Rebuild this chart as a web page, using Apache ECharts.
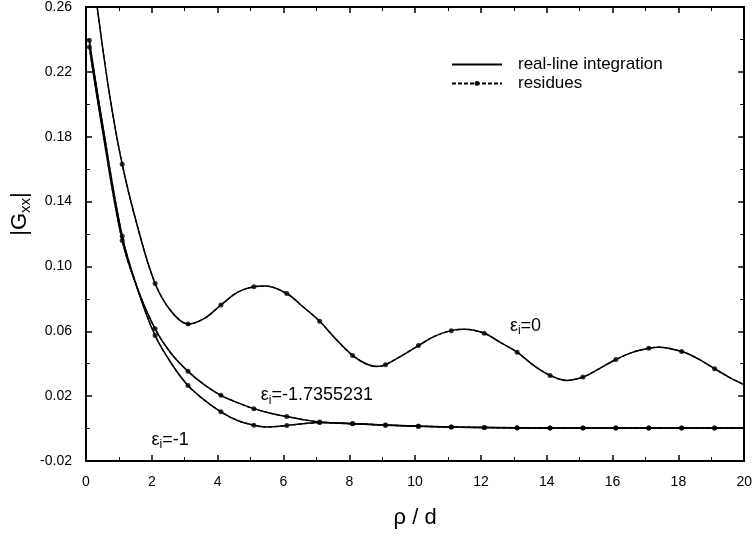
<!DOCTYPE html>
<html>
<head>
<meta charset="utf-8">
<script src="https://cdn.jsdelivr.net/npm/echarts@6/dist/echarts.min.js"></script>
<style>
html, body { margin: 0; padding: 0; background: #fff; }
#chart { width: 755px; height: 536px; }
</style>
</head>
<body>
<div id="chart"></div>
<script>
// 曲线数据
var lineX0 = [0.34, 0.7, 1.1, 1.6, 2.1, 2.6, 3.1, 3.6, 4.1, 4.6, 5.1, 5.45, 6.1, 6.6, 7.1, 7.6, 8.1, 8.5, 8.85, 9.1, 9.6, 10.1, 10.6, 11.1, 11.5, 12.1, 12.6, 13.1, 13.6, 14.1, 14.6, 15.1, 15.6, 16.1, 16.6, 17.1, 17.4, 18.1, 18.6, 19.1, 19.6, 20];
var lineY0 = [0.26, 0.208, 0.163, 0.122, 0.0895, 0.072, 0.0645, 0.068, 0.0762, 0.084, 0.0875, 0.0879, 0.0833, 0.075, 0.0662, 0.055, 0.0451, 0.0400, 0.0383, 0.0394, 0.045, 0.0512, 0.057, 0.0604, 0.0612, 0.0588, 0.053, 0.0471, 0.039, 0.0328, 0.0297, 0.0318, 0.037, 0.0426, 0.047, 0.0496, 0.0502, 0.0475, 0.043, 0.0369, 0.031, 0.0271];

var lineX1 = [0.1, 0.5, 1.1, 1.6, 2.1, 2.6, 3.1, 3.6, 4.1, 4.6, 5.1, 5.45, 6.1, 6.6, 7.1, 8.1, 9.1, 10.1, 11.1, 12.1, 13.1, 14.1, 15.1, 16.1, 17.1, 18.1, 19.1, 20];
var lineY1 = [0.2395, 0.188, 0.1188, 0.084, 0.0574, 0.040, 0.0265, 0.0175, 0.0103, 0.005, 0.0021, 0.0010, 0.0019, 0.003, 0.0037, 0.0031, 0.0022, 0.0015, 0.0009, 0.0006, 0.0004, 0.0003, 0.0003, 0.0003, 0.0003, 0.0003, 0.0003, 0.0003];

var lineX2 = [0.1, 0.5, 1.1, 1.6, 2.1, 2.6, 3.1, 3.6, 4.1, 4.6, 5.1, 5.6, 6.1, 6.6, 7.1, 8.1, 9.1, 10.1, 11.1, 12.1, 13.1, 14.1, 15.1, 16.1, 17.1, 18.1, 19.1, 20];
var lineY2 = [0.2354, 0.184, 0.116, 0.0845, 0.0615, 0.046, 0.0353, 0.027, 0.0205, 0.016, 0.0123, 0.0095, 0.0074, 0.0055, 0.0041, 0.0029, 0.0021, 0.0015, 0.0010, 0.0007, 0.0005, 0.0004, 0.0003, 0.0003, 0.0003, 0.0003, 0.0003, 0.0003];

// residues 的点
var resX = [0.1, 1.1, 2.1, 3.1, 4.1, 5.1, 6.1, 7.1, 8.1, 9.1, 10.1, 11.1, 12.1, 13.1, 14.1, 15.1, 16.1, 17.1, 18.1, 19.1];
var resX0 = [1.1, 2.1, 3.1, 4.1, 5.1, 6.1, 7.1, 8.1, 9.1, 10.1, 11.1, 12.1, 13.1, 14.1, 15.1, 16.1, 17.1, 18.1, 19.1];
var resY0 = [0.163, 0.0895, 0.0645, 0.0762, 0.0875, 0.0833, 0.0662, 0.0451, 0.0394, 0.0512, 0.0604, 0.0588, 0.0471, 0.0328, 0.0318, 0.0426, 0.0496, 0.0475, 0.0369];
var resY1 = [0.2395, 0.1188, 0.0574, 0.0265, 0.0103, 0.0021, 0.0019, 0.0037, 0.0031, 0.0022, 0.0015, 0.0009, 0.0006, 0.0004, 0.0003, 0.0003, 0.0003, 0.0003, 0.0003, 0.0003];
var resY2 = [0.2354, 0.116, 0.0615, 0.0353, 0.0205, 0.0123, 0.0074, 0.0041, 0.0029, 0.0021, 0.0015, 0.0010, 0.0007, 0.0005, 0.0004, 0.0003, 0.0003, 0.0003, 0.0003, 0.0003];

// 曲线标注
var curveLabels = ['ε{s|i}=0', 'ε{s|i}=-1.7355231', 'ε{s|i}=-1'];
var curveLabelPos = [[12.88, 0.0635], [5.31, 0.0205], [1.99, -0.0071]];

function pairs(xs, ys) {
    return xs.map(function (x, i) { return [x, ys[i]]; });
}

var FONT = '"Liberation Sans", Arial, sans-serif';

var chart = echarts.init(document.getElementById('chart'));

function solid(xs, ys) {
    return {
        name: 'real-line integration',
        type: 'line',
        data: pairs(xs, ys),
        smooth: 0.35,
        symbol: 'none',
        lineStyle: { color: '#000', width: 1.5, type: 'solid' },
        itemStyle: { color: '#000' },
        clip: true,
        z: 2
    };
}
// residues: 虚线 + 圆点
function residLine(xs, ys) {
    return {
        name: 'residues',
        type: 'line',
        data: pairs(xs, ys),
        smooth: 0.35,
        symbol: 'circle',
        symbolSize: 5,
        showSymbol: false,
        lineStyle: { color: '#000', width: 1.3, type: [4, 2] },
        itemStyle: { color: '#000' },
        clip: true,
        z: 3
    };
}
function residDots(xs, ys) {
    return {
        name: 'residues',
        type: 'scatter',
        data: pairs(xs, ys),
        symbol: 'circle',
        symbolSize: 5,
        itemStyle: { color: '#000' },
        clip: true,
        z: 4
    };
}

var tickLabel = { color: '#000', fontSize: 14, fontFamily: FONT };
function frameAxis(extra) {
    return Object.assign({
        type: 'value',
        axisLine: { show: true, onZero: false, lineStyle: { color: '#000', width: 2 } },
        axisTick: { show: true, inside: true, length: 6, lineStyle: { color: '#000', width: 1.5 } },
        minorTick: { show: true, splitNumber: 2, length: 4, lineStyle: { color: '#000', width: 1 } },
        axisLabel: { show: false },
        splitLine: { show: false }
    }, extra);
}

option = {
    animation: false,
    backgroundColor: '#fff',
    grid: { left: 86, right: 6, top: 5, bottom: 75, containLabel: false },
    legend: {
        orient: 'vertical',
        left: 446,
        top: 51,
        itemWidth: 50,
        itemHeight: 6,
        itemGap: 2,
        selectedMode: false,
        data: [
            { name: 'real-line integration', itemStyle: { color: 'rgba(0,0,0,0)', opacity: 0, borderWidth: 0 } },
            { name: 'residues' }
        ],
        textStyle: { color: '#000', fontSize: 17, fontFamily: FONT, padding: [0, 0, 0, 11] }
    },
    xAxis: [
        frameAxis({
            position: 'bottom', min: 0, max: 20, interval: 2,
            name: 'ρ / d', nameLocation: 'middle', nameGap: 46,
            nameTextStyle: { color: '#000', fontSize: 22, fontFamily: FONT },
            axisLabel: Object.assign({ show: true, margin: 14 }, tickLabel)
        }),
        frameAxis({ position: 'top', min: 0, max: 20, interval: 2 })
    ],
    yAxis: [
        frameAxis({
            position: 'left', min: -0.02, max: 0.26, interval: 0.04,
            axisLabel: Object.assign({ show: true, margin: 14, formatter: function (v) { return v.toFixed(2); } }, tickLabel)
        }),
        frameAxis({ position: 'right', min: -0.02, max: 0.26, interval: 0.04 })
    ],
    series: [
        solid(lineX0, lineY0),
        solid(lineX1, lineY1),
        solid(lineX2, lineY2),
        residLine(lineX0, lineY0),
        residLine(lineX1, lineY1),
        residLine(lineX2, lineY2),
        residDots(resX0, resY0),
        residDots(resX, resY1),
        residDots(resX, resY2)
    ]
};
chart.setOption(option);

// 标注文字
var graphics = [{
    type: 'text',
    x: 20, y: 214,
    rotation: Math.PI / 2,
    style: {
        text: '|G{s|xx}|',
        fill: '#000',
        font: '22px ' + FONT,
        align: 'center',
        verticalAlign: 'middle',
        rich: { s: { fontSize: 15, fontFamily: FONT, padding: [12, 0, 0, 0] } }
    }
}];
curveLabels.forEach(function (t, i) {
    var p = chart.convertToPixel({ xAxisIndex: 0, yAxisIndex: 0 }, curveLabelPos[i]);
    graphics.push({
        type: 'text',
        x: p[0], y: p[1],
        style: {
            text: t,
            fill: '#000',
            font: '18px ' + FONT,
            align: 'left',
            verticalAlign: 'middle',
            rich: { s: { fontSize: 12, fontFamily: FONT, padding: [10, 0, 0, 0] } }
        }
    });
});
chart.setOption({ graphic: graphics });
</script>
</body>
</html>
